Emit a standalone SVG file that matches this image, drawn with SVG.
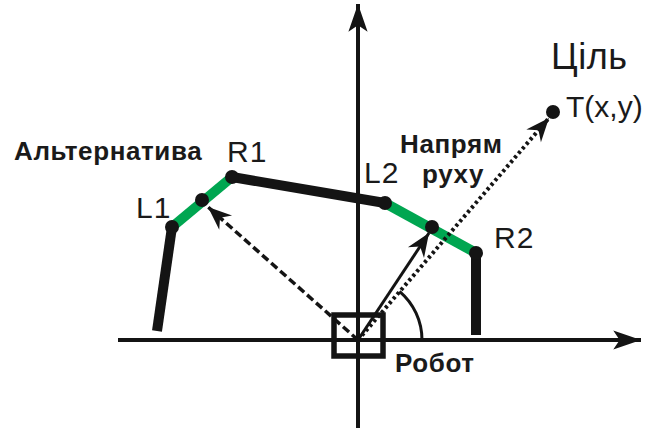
<svg xmlns="http://www.w3.org/2000/svg" width="645" height="428" viewBox="0 0 645 428">
<style>
.lbl{font-family:"Liberation Sans",Arial,sans-serif;font-size:30px;letter-spacing:1px;fill:#1a1a1a}
.bold{font-family:"Liberation Sans",Arial,sans-serif;font-size:26px;font-weight:bold;letter-spacing:0.6px;fill:#1a1a1a}
.wall{fill:none;stroke:#141414;stroke-width:10}
.free{fill:none;stroke:#00a651;stroke-width:10}
.axis{fill:none;stroke:#141414;stroke-width:4}
.dot{fill:#141414}
</style>
<defs>
<marker id="ah" markerUnits="userSpaceOnUse" markerWidth="30" markerHeight="30" viewBox="-24 -12 28 24" refX="0" refY="0" orient="auto">
<path d="M0,0 L-22,-9 L-15,0 L-22,9 Z" fill="#141414"/>
</marker>
<marker id="axh" markerUnits="userSpaceOnUse" markerWidth="32" markerHeight="32" viewBox="-28 -13 30 26" refX="0" refY="0" orient="auto">
<path d="M0,0 L-26,-9 L-20,0 L-26,9 Z" fill="#141414"/>
</marker>
</defs>
<g id="axes">
<line class="axis" x1="118" y1="340" x2="641" y2="340" marker-end="url(#axh)"/>
<line class="axis" x1="358" y1="428" x2="358" y2="4" marker-end="url(#axh)"/>
</g>
<g id="obstacle">
<polyline class="wall" points="157,331 172,227"/>
<polyline class="wall" points="232,177 385,203"/>
<polyline class="wall" points="476,253 476,335"/>
<polyline class="free" points="172,227 232,177"/>
<polyline class="free" points="385,203 476,253"/>
<circle class="dot" cx="172" cy="227" r="7"/>
<circle class="dot" cx="232" cy="177" r="7"/>
<circle class="dot" cx="385" cy="203" r="7"/>
<circle class="dot" cx="476" cy="253" r="7"/>
<circle class="dot" cx="202" cy="200" r="7"/>
<circle class="dot" cx="432" cy="227" r="7"/>
</g>
<g id="robot">
<rect x="334" y="315" width="49" height="41" fill="none" stroke="#141414" stroke-width="5.5"/>
<text class="bold" x="395" y="372">Робот</text>
</g>
<g id="target">
<circle class="dot" cx="553" cy="112" r="7"/>
<text class="lbl" x="551" y="69" style="font-size:36px;letter-spacing:0.5px">Ціль</text>
<text class="lbl" x="566" y="117" style="letter-spacing:0">T(x,y)</text>
</g>
<g id="connectors">
<line x1="358" y1="340" x2="208" y2="207" stroke="#141414" stroke-width="3.5" stroke-dasharray="8,4" marker-end="url(#ah)"/>
<line x1="358" y1="340" x2="429" y2="233" stroke="#141414" stroke-width="3" marker-end="url(#ah)"/>
<line x1="358" y1="340" x2="549" y2="118" stroke="#141414" stroke-width="4" stroke-dasharray="3,3" marker-end="url(#ah)"/>
<path d="M422,340 A64,64 0 0 0 399.5,291.3" fill="none" stroke="#141414" stroke-width="3"/>
</g>
<g id="labels">
<text class="bold" x="14" y="160">Альтернатива</text>
<text class="lbl" x="227" y="162">R1</text>
<text class="lbl" x="136" y="218">L1</text>
<text class="lbl" x="364" y="183">L2</text>
<text class="lbl" x="494" y="248">R2</text>
<text class="bold" x="400" y="153">Напрям</text>
<text class="bold" x="422" y="183">руху</text>
</g>
</svg>
